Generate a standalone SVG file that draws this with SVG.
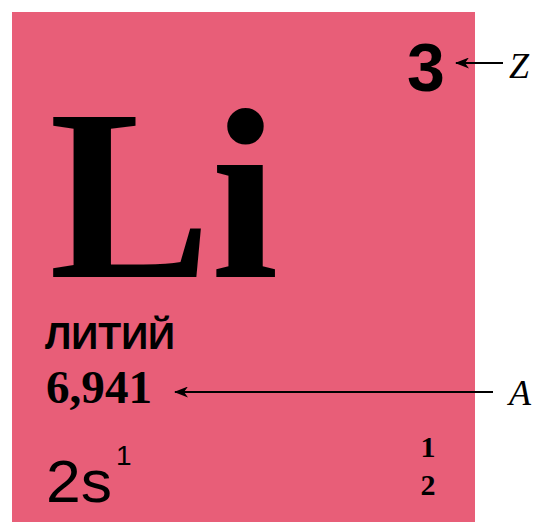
<svg xmlns="http://www.w3.org/2000/svg" width="543" height="528" viewBox="0 0 543 528">
  <style>
    .serif { font-family: "Liberation Serif", "Times New Roman", serif; fill: #000; }
    .sans { font-family: "Liberation Sans", Arial, "Noto Sans", sans-serif; fill: #000; }
    .conn { stroke: #000; stroke-width: 2; fill: none; }
  </style>
  <defs>
    <marker id="ah" viewBox="0 0 14 11" refX="13" refY="5.5" markerWidth="14" markerHeight="11" markerUnits="userSpaceOnUse" orient="auto">
      <path d="M14,5.5 L0,0 L4,5.5 L0,11 Z" fill="#000"/>
    </marker>
  </defs>
  <rect width="543" height="528" fill="#fff"/>
  <g id="cell">
    <rect x="12" y="12" width="463" height="510" fill="#E85E78"/>
  </g>
  <g id="symbol">
    <text class="serif" x="49" y="277" font-size="243" font-weight="bold">Li</text>
  </g>
  <g id="atomic-number">
    <text class="sans" x="407" y="91" font-size="68" font-weight="bold">3</text>
  </g>
  <g id="name">
    <text class="sans" x="45" y="349" font-size="36" font-weight="bold" textLength="130" lengthAdjust="spacingAndGlyphs">ЛИТИЙ</text>
  </g>
  <g id="mass">
    <text class="serif" x="46" y="403" font-size="46" font-weight="bold" textLength="106" lengthAdjust="spacingAndGlyphs">6,941</text>
  </g>
  <g id="config">
    <text class="sans" x="46" y="502" font-size="60" textLength="66" lengthAdjust="spacingAndGlyphs">2s</text>
    <text class="sans" x="116" y="465" font-size="28">1</text>
  </g>
  <g id="shells">
    <text class="serif" x="428" y="457" font-size="30" font-weight="bold" text-anchor="middle">1</text>
    <text class="serif" x="428" y="495" font-size="30" font-weight="bold" text-anchor="middle">2</text>
  </g>
  <g id="label-Z">
    <text class="serif" x="509" y="78" font-size="36" font-style="italic">Z</text>
  </g>
  <g id="label-A">
    <text class="serif" x="509" y="405" font-size="36" font-style="italic">A</text>
  </g>
  <g id="connectors">
    <line class="conn" x1="503" y1="63" x2="456" y2="63" marker-end="url(#ah)"/>
    <line class="conn" x1="493" y1="392" x2="175" y2="392" marker-end="url(#ah)"/>
  </g>
</svg>
